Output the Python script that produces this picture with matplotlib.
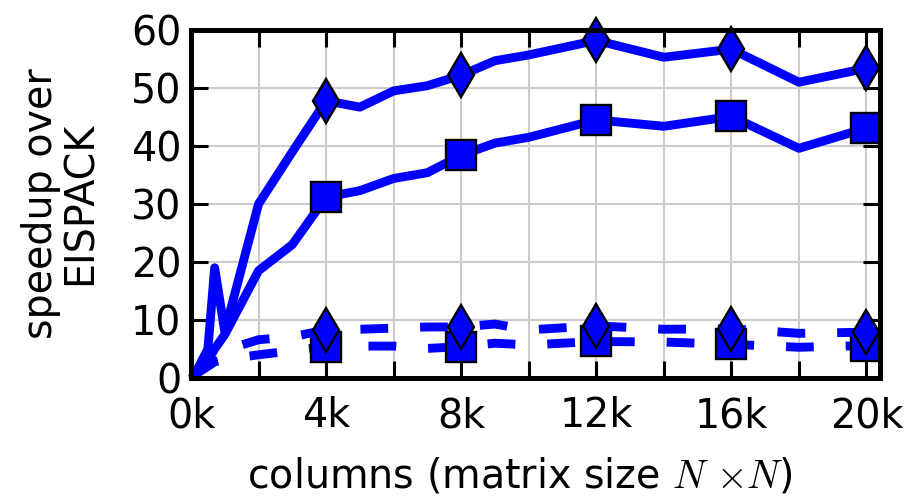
import matplotlib
matplotlib.use("Agg")
import matplotlib.pyplot as plt
from matplotlib.ticker import MultipleLocator, FixedLocator

plt.rcParams["font.family"] = ["DejaVu Sans"]
plt.rcParams["mathtext.fontset"] = "cm"
plt.rcParams["lines.scale_dashes"] = False

# matrix columns (N) and speedups over EISPACK
cols = [100, 500, 700, 1000, 2000, 3000, 4000, 5000, 6000, 7000, 8000,
        9000, 10000, 12000, 14000, 16000, 18000, 20000]
solid_diamond = [0.5, 5.0, 19.0, 8.0, 30.0, 39.0, 47.8, 46.7, 49.5, 50.4, 52.2,
                 54.7, 55.7, 58.2, 55.3, 56.7, 51.0, 53.4]
solid_square = [0.5, 3.0, 5.0, 7.5, 18.5, 23.0, 31.2, 32.3, 34.4, 35.4, 38.4,
                40.5, 41.5, 44.5, 43.4, 45.1, 39.6, 43.1]
dashed_square = [0.5, 2.0, 2.8, 3.2, 4.0, 4.7, 5.4, 5.5, 5.5, 5.1, 5.4,
                 6.0, 5.7, 6.3, 6.2, 5.8, 5.3, 5.6]
dashed_diamond = [0.5, 3.0, 4.5, 4.8, 6.6, 7.1, 8.3, 8.4, 8.6, 8.8, 8.8,
                  9.3, 8.3, 9.0, 8.4, 8.5, 7.7, 7.9]
marker_cols = [4000, 8000, 12000, 16000, 20000]
xtick_vals = [0, 4000, 8000, 12000, 16000, 20000]
xtick_labels = ["0k", "4k", "8k", "12k", "16k", "20k"]
ytick_vals = [0, 10, 20, 30, 40, 50, 60]

marks = [cols.index(c) for c in marker_cols]

fig = plt.figure(figsize=(9.07, 4.96), dpi=100)
ax = fig.add_axes([191 / 907, 118 / 496, 689 / 907, 348 / 496])

blue = "#0000ff"
lw = 6.4
ms = 22
common = dict(color=blue, lw=lw, markevery=marks, markersize=ms,
              markerfacecolor=blue, markeredgecolor="black",
              markeredgewidth=1.7, clip_on=False, zorder=3)

ax.plot(cols, solid_square, marker="s", **common)
ax.plot(cols, solid_diamond, marker="d", **common)
ax.plot(cols, dashed_square, marker="s", dashes=(20, 23), **common)
ax.plot(cols, dashed_diamond, marker="d", dashes=(20, 23), **common)

ax.set_xlim(0, 20400)
ax.set_ylim(0, 60)
ax.xaxis.set_major_locator(FixedLocator(xtick_vals))
ax.set_xticklabels(xtick_labels)
ax.xaxis.set_minor_locator(MultipleLocator(2000))
ax.set_yticks(ytick_vals)

ax.grid(True, which="both", color="#cccccc", lw=1.5, zorder=0)
ax.set_axisbelow(True)
ax.tick_params(which="both", direction="in", top=True, right=True,
               length=12, width=2.2, labelsize=28.5, color="black")
ax.tick_params(axis="x", which="both", pad=13)
ax.tick_params(axis="y", pad=7)
for s in ax.spines.values():
    s.set_linewidth(3.6)
    s.set_zorder(5)

fig.text(520 / 907, 0.04, r"columns (matrix size $N\ {\times}N$)",
         fontsize=28.5, ha="center", va="center")
fig.text(61 / 907, 0.59, "speedup over\nEISPACK", fontsize=28.5,
         rotation=90, ha="center", va="center", multialignment="center",
         linespacing=1.0)

fig.savefig("out.png", dpi=100)
